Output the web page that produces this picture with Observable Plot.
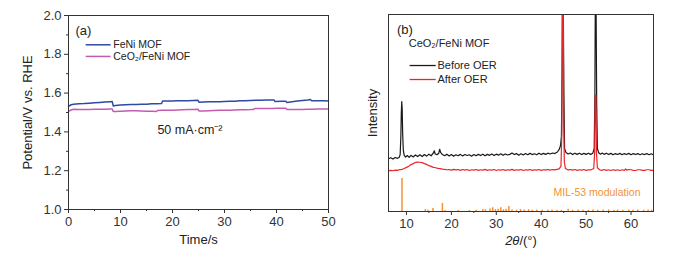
<!DOCTYPE html>
<html><head><meta charset="utf-8">
<script src="https://cdn.jsdelivr.net/npm/d3@7"></script>
<script src="https://cdn.jsdelivr.net/npm/@observablehq/plot@0.6"></script>
<style>
body{margin:0;background:#fff;}
#wrap{display:flex;width:677px;height:259px;}
</style></head><body><div id="wrap"></div>
<script>
// ---- Panel (a): chronopotentiometry ----
const feniTime = [0,0.5,1,2,3,4,5,6,7,8,8.4,8.6,9,10,11,12,13,14,15,16,17,17.9,18.1,19,20,21,22,23,24,24.9,25.1,26,27,28,29,30,31,32,33,34,35,36,37,38,39,39.5,39.7,41,41.8,42,43,44,45,46,46.5,46.8,48,49,50];
const feniPotential = [1.532,1.540,1.543,1.545,1.546,1.548,1.550,1.552,1.554,1.556,1.557,1.534,1.536,1.539,1.540,1.541,1.541,1.542,1.543,1.545,1.545,1.546,1.559,1.559,1.559,1.560,1.561,1.561,1.562,1.563,1.553,1.554,1.555,1.555,1.556,1.557,1.558,1.558,1.560,1.561,1.562,1.563,1.563,1.564,1.564,1.565,1.557,1.558,1.558,1.552,1.556,1.559,1.562,1.565,1.567,1.560,1.560,1.560,1.559];
const ceoTime = [0,0.5,1,2,3,4,5,6,7,8,8.4,8.6,9,10,11,12,13,14,15,16,16.9,17.1,18,19,20,21,22,23,24,24.9,25.1,26,27,28,29,30,31,32,33,34,35,35.6,35.8,37,38,39,40,41,41.8,42,43,44,45,46,47,48,49,50];
const ceoPotential = [1.506,1.513,1.517,1.516,1.516,1.516,1.517,1.517,1.517,1.518,1.518,1.505,1.505,1.507,1.508,1.509,1.509,1.508,1.507,1.506,1.505,1.510,1.511,1.512,1.512,1.513,1.514,1.515,1.516,1.517,1.508,1.508,1.509,1.510,1.511,1.511,1.512,1.513,1.514,1.514,1.515,1.516,1.520,1.520,1.521,1.521,1.522,1.522,1.522,1.515,1.515,1.516,1.516,1.517,1.517,1.518,1.518,1.518];
const timeMajor = [0,10,20,30,40,50];
const timeMinor = [5,15,25,35,45];
const potMajor = [1.0,1.2,1.4,1.6,1.8,2.0];
const potMinor = [1.1,1.3,1.5,1.7,1.9];
const seriesA = ["FeNi MOF","CeO\u2082/FeNi MOF"];

// ---- Panel (b): XRD ----
const beforeAngle = [6,6.5,7,7.5,8,8.4,8.6,8.75,8.85,8.95,9.05,9.15,9.3,9.5,9.8,10.2,10.6,11,11.5,12,12.5,13,13.5,14,14.5,15,15.5,16,16.2,16.4,16.8,17.2,17.4,17.6,18,18.5,19,19.5,20,20.5,21,21.5,22,22.5,23,23.5,24,24.5,25,25.5,26,26.5,27,27.5,28,28.5,29,29.5,30,30.5,31,31.5,32,32.5,33,33.5,34,34.5,35,35.5,36,36.5,37,37.5,38,38.5,39,39.5,40,40.5,41,41.5,42,42.5,43,43.6,44,44.3,44.5,44.65,44.75,44.9,45.05,45.2,45.5,46,46.5,47,47.5,48,48.5,49,49.5,50,50.5,51,51.5,51.8,51.95,52.05,52.2,52.35,52.5,52.8,53.2,53.6,54,54.5,55,55.5,56,56.5,57,57.5,58,58.5,59,59.5,60,60.5,61,61.5,62,62.5,63,63.5,64,64.5,65];
const beforeIntensity = [26.8,27.3,26.6,27.4,27.0,27.5,29,38,50,55.8,52,40,31,28.5,27.6,28.4,27.5,28.5,27.7,28.7,27.9,28.8,27.9,28.9,28.1,29.1,28.3,29.7,30.8,29.2,28.8,29.6,31.6,30.0,28.9,28.3,29.1,28.2,28.9,28.1,28.8,28.3,29.0,28.2,28.9,28.4,28.8,28.1,28.9,28.3,29.0,28.4,29.1,28.3,29.0,28.5,29.2,28.4,29.1,28.6,29.3,28.5,29.2,28.7,29.0,29.7,28.9,29.4,28.6,29.3,28.7,29.4,28.8,29.5,28.9,29.3,28.8,29.6,28.9,29.5,29.0,29.6,29.2,29.7,29.4,30.2,31.5,33.5,38,70,110,110,60,32,30,29.2,29.7,28.9,29.6,29.0,29.6,28.9,29.5,29.0,29.6,29.0,29.6,32,60,110,110,55,32,29.8,29.1,29.7,29.0,29.6,28.9,29.5,28.8,29.4,28.9,29.5,28.8,29.4,28.9,29.5,28.8,29.4,28.9,29.4,28.8,29.3,28.9,29.4,28.8,29.3,28.8];
const afterAngle = [6,6.5,7,7.5,8,8.5,9,9.5,10,10.5,11,11.5,12,12.5,13,13.5,14,14.5,15,15.5,16,16.5,17,17.5,18,18.5,19,19.5,20,20.5,21,21.5,22,22.5,23,23.5,24,24.5,25,25.5,26,26.5,27,27.5,28,28.5,29,29.5,30,30.5,31,31.5,32,32.5,33,33.5,34,34.5,35,35.5,36,36.5,37,37.5,38,38.5,39,39.5,40,40.5,41,41.5,42,42.5,43,43.5,44,44.4,44.6,44.7,44.9,45.0,45.15,45.4,46,46.5,47,47.5,48,48.5,49,49.5,50,50.5,51,51.7,51.9,52.0,52.15,52.3,52.5,53,53.5,54,54.5,55,55.5,56,56.5,57,57.5,58,58.5,58.8,59,59.5,60,60.5,61,61.5,62,62.5,63,63.5,64,64.5,65];
const afterIntensity = [20.6,20.9,20.7,21.0,20.9,21.3,21.4,21.8,22.4,23.0,23.8,24.3,24.9,25.1,25.0,24.8,24.3,23.9,23.3,22.9,22.4,22.2,21.9,21.8,21.5,21.4,21.2,21.3,21.0,21.4,21.1,21.3,20.9,21.3,21.0,21.3,20.8,21.2,21.0,21.3,20.9,21.2,21.0,21.4,20.9,21.2,21.0,21.3,20.8,21.2,21.0,21.3,20.9,21.2,21.0,21.4,20.9,21.2,21.0,21.3,20.8,21.2,21.0,21.3,20.9,21.2,21.0,21.3,20.9,21.2,21.1,21.3,21.0,21.3,21.1,21.4,21.6,23,40,110,110,45,25,21.8,21.1,21.3,21.0,21.3,20.9,21.2,21.0,21.3,20.9,21.2,21.1,21.8,30,58.9,58.9,30,22.2,21.2,20.9,21.3,20.9,21.2,20.8,21.2,20.9,21.2,20.8,21.2,20.9,21.6,21.0,21.3,21.2,20.9,20.8,21.2,21.2,20.9,20.9,21.2,21.2,20.9,20.9];
const milAngle = [9.0,14.2,14.8,15.9,18.0,18.6,21.5,24,25.5,27.0,27.6,28.6,29.2,29.8,30.4,31.0,31.6,32.2,32.8,33.5,34.5,35.4,36.2,37.2,38.0,39.0,40.2,41.5,42.4,43.5,44.5,46.0,47.0,48.2,49.3,50.5,51.5,52.6,53.8,55.0,56.2,57.0,58.2,59.5,60.4,61.5,62.8,63.8,64.6];
const milIntensity = [16.8,1.0,0.6,1.5,4.1,0.5,0.5,0.5,0.6,1.0,0.8,1.3,1.9,1.0,1.2,1.9,0.9,1.1,2.6,0.8,0.7,1.0,0.8,0.9,0.6,0.7,0.6,0.6,0.7,0.6,0.6,1.2,0.6,0.7,0.6,0.6,0.7,0.6,0.7,0.8,0.6,0.7,0.6,0.7,0.6,0.7,0.6,0.7,0.6];
const angleMajor = [10,20,30,40,50,60];
const angleMinor = [15,25,35,45,55];
const seriesB = ["Before OER","After OER"];

const FONT = 'Arial, "Liberation Sans", sans-serif';
const blue = "#2f49a5", pink = "#c55bb0", black = "#1a1a1a", red = "#e8262a", orange = "#f39234", axisCol = "#333";

const feni = feniTime.map((t,i)=>({t, v: feniPotential[i]}));
const ceo = ceoTime.map((t,i)=>({t, v: ceoPotential[i]}));
const before = beforeAngle.map((a,i)=>({a, v: beforeIntensity[i]}));
const after = afterAngle.map((a,i)=>({a, v: afterIntensity[i]}));
const mil = milAngle.map((a,i)=>({a, v: milIntensity[i]}));

const legA = [{name: seriesA[0], color: blue, y: 1.849},{name: seriesA[1], color: pink, y: 1.789}];
const legB = [{name: seriesB[0], color: black, y: 74.1},{name: seriesB[1], color: red, y: 67.0}];

const left = Plot.plot({
  width: 340, height: 259,
  marginLeft: 68, marginRight: 12, marginTop: 15, marginBottom: 50,
  style: {fontFamily: FONT, fontSize: "13px", color: axisCol, background: "white", overflow: "visible"},
  x: {domain: [0, 50]},
  y: {domain: [1.0, 2.0]},
  color: {type: "identity"},
  marks: [
    Plot.axisX({ticks: timeMajor, tickSize: 4, tickPadding: 3, label: null, fontSize: 13}),
    Plot.axisX({ticks: timeMinor, tickSize: 2, text: null, label: null}),
    Plot.axisY({ticks: potMajor, tickSize: 4, tickPadding: 3, tickFormat: d3.format(".1f"), label: null, fontSize: 13}),
    Plot.axisY({ticks: potMinor, tickSize: 2, text: null, label: null}),
    Plot.line(feni, {x: "t", y: "v", stroke: blue, strokeWidth: 1.5}),
    Plot.line(ceo, {x: "t", y: "v", stroke: pink, strokeWidth: 1.5}),
    Plot.link(legA, {x1: 3.3, x2: 8.1, y1: "y", y2: "y", stroke: "color", strokeWidth: 1.5}),
    Plot.text(legA, {x: 8.6, y: "y", text: "name", textAnchor: "start", fontSize: 10.5, fill: "#222"}),
    Plot.text(["(a)"], {x: 1.35, y: 1.922, textAnchor: "start", fontSize: 13, fill: "#222"}),
    Plot.text(["50 mA\u00b7cm\u207b\u00b2"], {x: 17.1, y: 1.408, textAnchor: "start", fontSize: 12.5, fill: "#222"}),
    Plot.text(["Time/s"], {frameAnchor: "bottom", dy: 30, lineAnchor: "middle", fontSize: 13, fill: "#222"}),
    Plot.text(["Potential/V vs. RHE"], {frameAnchor: "left", dx: -41, rotate: -90, textAnchor: "middle", lineAnchor: "middle", fontSize: 13, fill: "#222"}),
    Plot.frame({stroke: axisCol, strokeWidth: 1})
  ]
});

const right = Plot.plot({
  width: 337, height: 259,
  marginLeft: 48, marginRight: 24, marginTop: 14, marginBottom: 48,
  style: {fontFamily: FONT, fontSize: "13px", color: axisCol, background: "white", overflow: "visible"},
  x: {domain: [6, 65]},
  y: {domain: [0, 100], axis: null},
  color: {type: "identity"},
  marks: [
    Plot.axisX({ticks: angleMajor, tickSize: 4, tickPadding: 3, label: null, fontSize: 13}),
    Plot.axisX({ticks: angleMinor, tickSize: 2, text: null, label: null}),
    Plot.ruleX(mil, {x: "a", y1: 0, y2: "v", stroke: orange, strokeWidth: 1.5}),
    Plot.line(before, {x: "a", y: "v", stroke: black, strokeWidth: 1.2, clip: true}),
    Plot.line(after, {x: "a", y: "v", stroke: red, strokeWidth: 1.2, clip: true}),
    Plot.link(legB, {x1: 10.7, x2: 16.5, y1: "y", y2: "y", stroke: "color", strokeWidth: 1.3}),
    Plot.text(legB, {x: 16.9, y: "y", text: "name", textAnchor: "start", fontSize: 11, fill: "#222"}),
    Plot.text(["(b)"], {x: 7.9, y: 92.2, textAnchor: "start", fontSize: 13, fill: "#222"}),
    Plot.text(["CeO\u2082/FeNi MOF"], {x: 10.5, y: 85.1, textAnchor: "start", fontSize: 11, fill: "#222"}),
    Plot.text(["MIL-53 modulation"], {x: 62.1, y: 9.6, textAnchor: "end", fontSize: 10.5, fill: orange}),
    Plot.text(["2\u03b8/(\u00b0)"], {frameAnchor: "bottom", dy: 29, lineAnchor: "middle", fontSize: 13, fill: "#222"}),
    Plot.text(["Intensity"], {frameAnchor: "left", dx: -16, rotate: -90, textAnchor: "middle", lineAnchor: "middle", fontSize: 13, fill: "#222"}),
    Plot.frame({stroke: axisCol, strokeWidth: 1})
  ]
});

// italic 2θ in the x label
d3.select(right).selectAll("text").filter(function(){ return this.textContent === "2\u03b8/(\u00b0)"; })
  .each(function(){
    const t = d3.select(this);
    t.text(null);
    t.append("tspan").attr("font-style", "italic").text("2\u03b8");
    t.append("tspan").text("/(\u00b0)");
  });

document.getElementById("wrap").append(left, right);
</script></body></html>
